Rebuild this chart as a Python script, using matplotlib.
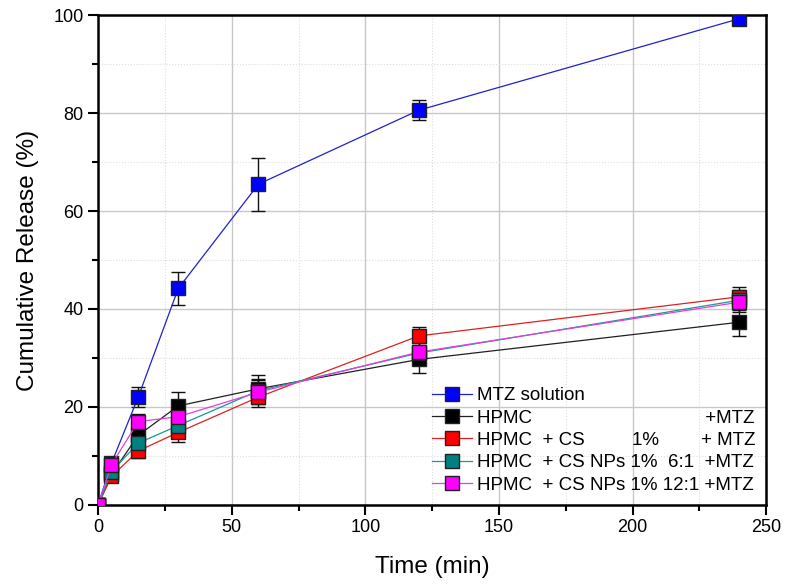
import matplotlib.pyplot as plt
from matplotlib.ticker import MultipleLocator

plt.rcParams['font.family'] = ['Liberation Sans', 'DejaVu Sans']

# time points (min)
t = [0, 5, 15, 30, 60, 120, 240]

# cumulative release (%) and error bars
mtz = [0, 8.5, 22, 44.2, 65.5, 80.6, 99.3]
mtz_err = [0, 1.0, 2.0, 3.4, 5.4, 2.0, 1.0]
hpmc = [0, 6.2, 14.2, 20.2, 23.7, 29.7, 37.3]
hpmc_err = [0, 1.0, 1.5, 2.8, 2.8, 2.8, 2.8]
cs = [0, 5.8, 11.0, 14.8, 22.0, 34.5, 42.5]
cs_err = [0, 1.0, 1.5, 2.0, 2.0, 1.8, 2.0]
np61 = [0, 6.8, 12.6, 16.2, 23.3, 31.0, 41.8]
np61_err = [0, 1.0, 1.5, 2.0, 2.5, 2.5, 2.0]
np121 = [0, 8.2, 17.0, 18.0, 23.0, 31.2, 41.4]
np121_err = [0, 1.0, 1.5, 2.0, 2.5, 2.5, 2.0]

labels = [
    'MTZ solution',
    'HPMC' + ' ' * 33 + '+MTZ',
    'HPMC  + CS' + ' ' * 9 + '1%' + ' ' * 8 + '+ MTZ',
    'HPMC  + CS NPs 1%  6:1  +MTZ',
    'HPMC  + CS NPs 1% 12:1 +MTZ',
]
series = [mtz, hpmc, cs, np61, np121]
errors = [mtz_err, hpmc_err, cs_err, np61_err, np121_err]
line_colors = ['#2020d0', '#202020', '#e02020', '#1a9a90', '#e040e0']
face_colors = ['#0000ff', '#000000', '#ff0000', '#008080', '#ff00ff']

fig = plt.figure(figsize=(7.85, 5.87), dpi=100)
ax = fig.add_axes([0.125, 0.14, 0.851, 0.834])

for y, e, lc, fc, lab in zip(series, errors, line_colors, face_colors, labels):
    ax.errorbar(t, y, yerr=e, color=lc, lw=0.9, marker='s', ms=9.5,
                mfc=fc, mec='#202020', mew=1.0, ecolor='#111111',
                elinewidth=1.0, capsize=5, capthick=1.0, label=lab, zorder=3)

ax.set_xlim(0, 250)
ax.set_ylim(0, 100)
ax.xaxis.set_major_locator(MultipleLocator(50))
ax.xaxis.set_minor_locator(MultipleLocator(25))
ax.yaxis.set_major_locator(MultipleLocator(20))
ax.yaxis.set_minor_locator(MultipleLocator(10))
ax.grid(which='major', color='#c8c8c8', lw=1.0, ls='-')
ax.grid(which='minor', color='#dddddd', lw=0.8, ls=':')
ax.set_axisbelow(True)
ax.tick_params(which='major', direction='out', length=7, width=1.5, labelsize=13)
ax.tick_params(which='minor', direction='out', length=4, width=1.5)
for s in ax.spines.values():
    s.set_linewidth(1.8)

ax.set_xlabel('Time (min)', fontsize=17.5, labelpad=14)
ax.set_ylabel('Cumulative Release (%)', fontsize=17.5, labelpad=10)

handles, labs = ax.get_legend_handles_labels()
handles = [h[0] for h in handles]
ax.legend(handles, labs, loc='lower left', bbox_to_anchor=(0.478, -0.008),
          frameon=False, fontsize=13.5, handlelength=2.1, handletextpad=0.3,
          labelspacing=0.28, borderpad=0.3)

plt.savefig('out.png', dpi=100)
plt.close()
